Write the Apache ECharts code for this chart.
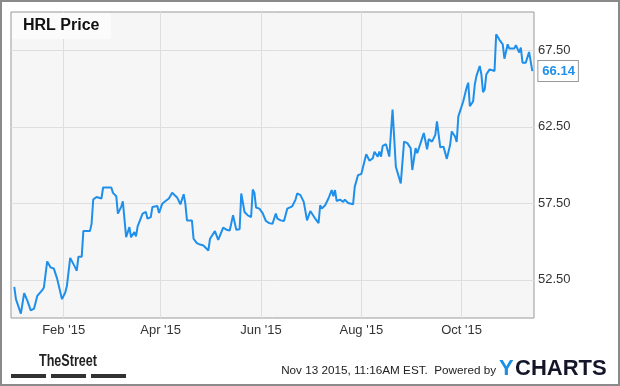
<!DOCTYPE html>
<html><head><meta charset="utf-8">
<script src="https://cdn.jsdelivr.net/npm/echarts@6/dist/echarts.min.js"></script>
<style>html,body{margin:0;padding:0;background:#fff}#c{width:620px;height:386px}</style>
</head><body><div id="c"></div>
<script>
// Day of year 2015 (Jan 1 = 1) of each traced point
const dayOfYear = [2,3,6,8,10,12,14,16,19,20,22,24,26,28,29,31,33,34,36,37,39,40,41,43,44,48,49,50,52,55,56,61,62,64,65,67,68,70,72,73,75,76,77,78,80,82,83,85,86,89,90,92,96,98,101,103,105,106,107,110,111,113,115,117,118,120,121,124,125,126,129,131,133,135,137,139,140,142,144,146,147,148,149,151,153,154,155,157,159,161,162,164,166,168,171,173,174,176,178,180,181,182,185,187,188,189,191,193,195,196,197,198,200,202,203,205,208,209,211,213,214,216,218,220,221,223,224,225,226,228,229,230,232,233,234,237,239,241,243,244,246,247,250,251,253,254,256,258,259,261,263,264,265,267,268,270,271,272,273,275,277,278,279,281,282,283,285,286,287,288,289,291,292,294,295,297,299,300,302,303,306,307,309,310,311,313,315,317];
const price = [52.04,51.23,50.29,51.63,51.12,50.5,50.61,51.45,51.82,52.0,53.7,53.31,53.24,52.59,52.48,51.23,51.67,52.1,53.93,53.93,53.31,53.09,54.01,54.01,55.68,55.68,56.16,57.74,57.91,57.81,58.53,58.53,58.18,57.96,56.82,57.26,57.63,55.28,55.94,55.28,55.61,55.33,55.99,55.94,56.82,56.93,56.49,56.6,57.26,57.32,56.86,57.48,57.81,58.18,57.88,57.43,58.09,57.48,56.38,56.38,55.18,54.89,54.8,54.74,54.8,54.41,55.18,55.68,55.72,55.11,55.9,55.77,55.72,56.71,55.77,55.8,58.14,56.93,56.71,56.6,58.4,58.18,57.22,57.15,56.86,56.93,56.34,56.2,56.16,56.82,56.49,56.38,56.34,57.15,57.3,57.74,58.14,58.03,57.59,56.38,56.49,56.99,56.49,56.2,57.37,57.15,57.37,57.81,58.36,57.96,58.36,57.65,57.74,57.59,57.74,57.52,57.43,58.57,59.34,59.41,59.49,60.7,60.28,60.44,60.87,60.55,60.87,60.55,61.25,61.36,61.38,60.55,63.62,61.76,59.89,58.8,61.53,61.43,61.1,59.67,61.1,60.77,61.76,62.09,61.03,61.69,61.53,61.97,62.85,61.16,61.2,61.16,60.4,61.32,62.19,61.86,61.5,63.18,63.29,64.17,65.05,65.38,63.84,64.17,65.26,65.81,66.47,65.92,64.76,64.93,65.92,66.25,66.36,66.14,68.55,68.18,67.89,66.95,67.89,67.61,67.61,67.83,67.35,67.68,66.69,66.69,67.39,66.14];
const yTicks = [52.5, 57.5, 62.5, 67.5];
const xTickDates = ['2015-02-01','2015-04-01','2015-06-01','2015-08-01','2015-10-01'];
const xTickLabels = ["Feb '15","Apr '15","Jun '15","Aug '15","Oct '15"];
const lastLabel = '66.14';

const DAY = 86400000;
const base = Date.UTC(2015,0,1);
const data = dayOfYear.map((d,i)=>[base+(d-1)*DAY, price[i]]);
const xTickVals = xTickDates.map(s=>{const p=s.split('-');return Date.UTC(+p[0],+p[1]-1,+p[2]);});

const chart = echarts.init(document.getElementById('c'), null, {renderer:'canvas'});
chart.setOption({
  animation:false,
  backgroundColor:'#fff',
  textStyle:{fontFamily:'Liberation Sans, Arial, sans-serif'},
  grid:{left:11,right:86,top:12,bottom:68,show:true,backgroundColor:'#f6f6f6',borderColor:'#999',borderWidth:1},
  xAxis:{
    type:'value', scale:true,
    min:Date.UTC(2014,11,31), max:Date.UTC(2015,10,14),
    axisLine:{show:false}, axisTick:{show:false, customValues:xTickVals},
    axisLabel:{customValues:xTickVals, color:'#333', fontSize:13, margin:6,
      formatter:function(v){const i=xTickVals.indexOf(v);return i>=0?xTickLabels[i]:'';}},
    splitLine:{show:true, lineStyle:{color:'#dedede',width:1}}
  },
  yAxis:{
    type:'value', position:'right', min:50, max:70, interval:2.5,
    axisLine:{show:false}, axisTick:{show:false, customValues:yTicks},
    axisLabel:{customValues:yTicks, color:'#333', fontSize:13, margin:4,
      formatter:function(v){return v.toFixed(2);}},
    splitLine:{show:true, lineStyle:{color:'#dedede',width:1}}
  },
  series:[{
    type:'line', data:data, symbol:'none', smooth:false,
    lineStyle:{color:'#1e8fea', width:2},
    endLabel:{show:true, formatter:lastLabel, color:'#1e8fea', fontWeight:'bold', fontSize:13,
      backgroundColor:'#fff', borderColor:'#999', borderWidth:1, padding:[4,3,3,4], distance:6}
  }],
  graphic:[
    {type:'rect', shape:{x:1,y:1,width:618,height:384}, style:{fill:'none',stroke:'#8a8a8a',lineWidth:2}, z:100},
    {type:'rect', left:12, top:13, shape:{width:99,height:26}, style:{fill:'#fbfbfb'}, z:5},
    {type:'text', left:23, top:18, style:{text:'HRL Price', font:'bold 16px Liberation Sans, Arial, sans-serif', fill:'#111'}, z:6},
    {type:'text', left:39, top:353, scaleX:0.74, style:{text:'TheStreet', font:'bold 17px Liberation Sans, Arial, sans-serif', fill:'#222'}},
    {type:'rect', left:11, top:374, shape:{width:35,height:4}, style:{fill:'#333'}},
    {type:'rect', left:51, top:374, shape:{width:35,height:4}, style:{fill:'#333'}},
    {type:'rect', left:91, top:374, shape:{width:35,height:4}, style:{fill:'#333'}},
    {type:'text', right:124, top:365, style:{text:'Nov 13 2015, 11:16AM EST.  Powered by', font:'11.7px Liberation Sans, Arial, sans-serif', fill:'#222'}},
    {type:'text', left:499, top:358, style:{text:'Y', font:'bold 22px Liberation Sans, Arial, sans-serif', fill:'#1a8fe6'}},
    {type:'text', left:515, top:358, style:{text:'CHARTS', font:'bold 22px Liberation Sans, Arial, sans-serif', fill:'#15152a'}}
  ]
});
</script></body></html>
